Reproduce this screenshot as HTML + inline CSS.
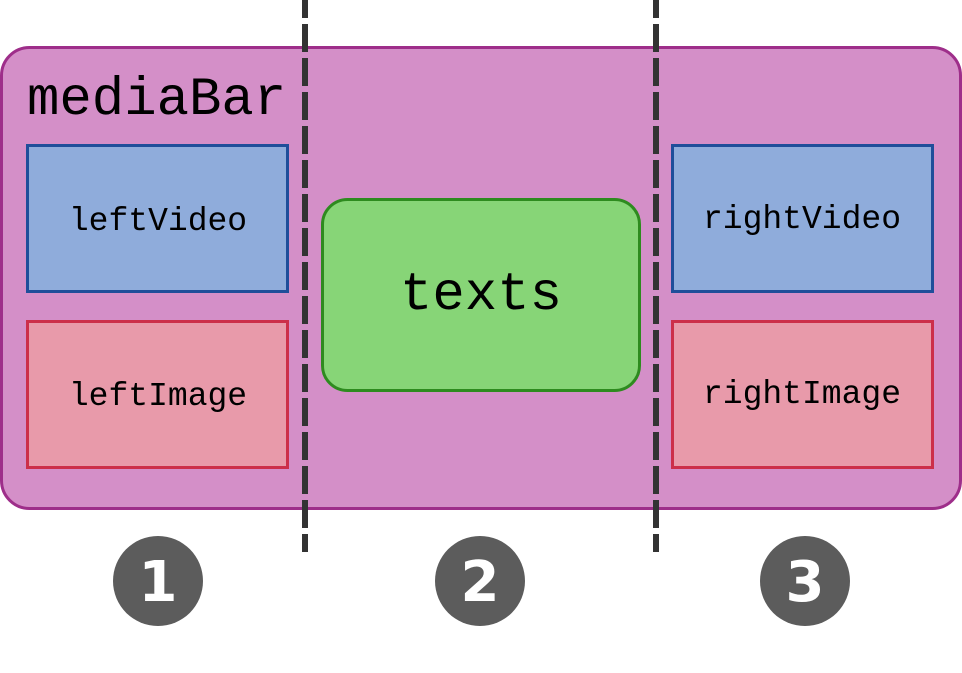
<!DOCTYPE html>
<html><head><meta charset="utf-8"><style>
html,body{margin:0;padding:0;background:#fff;}
svg{display:block;}
text{font-family:"Liberation Mono","DejaVu Sans Mono",monospace;fill:#000;}
</style></head><body>
<svg width="962" height="673" viewBox="0 0 962 673">
<rect x="1.5" y="47.5" width="959" height="461" rx="28" fill="#d48fc8" stroke="#9e2e8a" stroke-width="3"/>
<text x="27" y="114" font-size="54">mediaBar</text>
<rect x="27.5" y="145.5" width="260" height="146" fill="#8facdb" stroke="#1f4e9a" stroke-width="3"/>
<text x="158" y="230" font-size="33" text-anchor="middle">leftVideo</text>
<rect x="27.5" y="321.5" width="260" height="146" fill="#e89aaa" stroke="#cc2f4a" stroke-width="3"/>
<text x="158" y="405" font-size="33" text-anchor="middle">leftImage</text>
<rect x="322.5" y="199.5" width="317" height="191" rx="25" fill="#87d577" stroke="#2e8b1f" stroke-width="3"/>
<text x="481" y="309" font-size="54" text-anchor="middle">texts</text>
<rect x="672.5" y="145.5" width="260" height="146" fill="#8facdb" stroke="#1f4e9a" stroke-width="3"/>
<text x="802" y="228" font-size="33" text-anchor="middle">rightVideo</text>
<rect x="672.5" y="321.5" width="260" height="146" fill="#e89aaa" stroke="#cc2f4a" stroke-width="3"/>
<text x="802" y="403" font-size="33" text-anchor="middle">rightImage</text>
<line x1="305" y1="-10" x2="305" y2="552" stroke="#333" stroke-width="6" stroke-dasharray="28 6"/>
<line x1="656" y1="-10" x2="656" y2="552" stroke="#333" stroke-width="6" stroke-dasharray="28 6"/>
<g>
<circle cx="158" cy="581" r="45" fill="#5c5c5c"/>
<text x="158" y="601" font-size="56" font-weight="bold" text-anchor="middle" style="fill:#fff;font-family:'DejaVu Sans','Liberation Sans',sans-serif">1</text>
</g>
<g>
<circle cx="480" cy="581" r="45" fill="#5c5c5c"/>
<text x="480" y="601" font-size="56" font-weight="bold" text-anchor="middle" style="fill:#fff;font-family:'DejaVu Sans','Liberation Sans',sans-serif">2</text>
</g>
<g>
<circle cx="805" cy="581" r="45" fill="#5c5c5c"/>
<text x="805" y="601" font-size="56" font-weight="bold" text-anchor="middle" style="fill:#fff;font-family:'DejaVu Sans','Liberation Sans',sans-serif">3</text>
</g>
</svg>
</body></html>
